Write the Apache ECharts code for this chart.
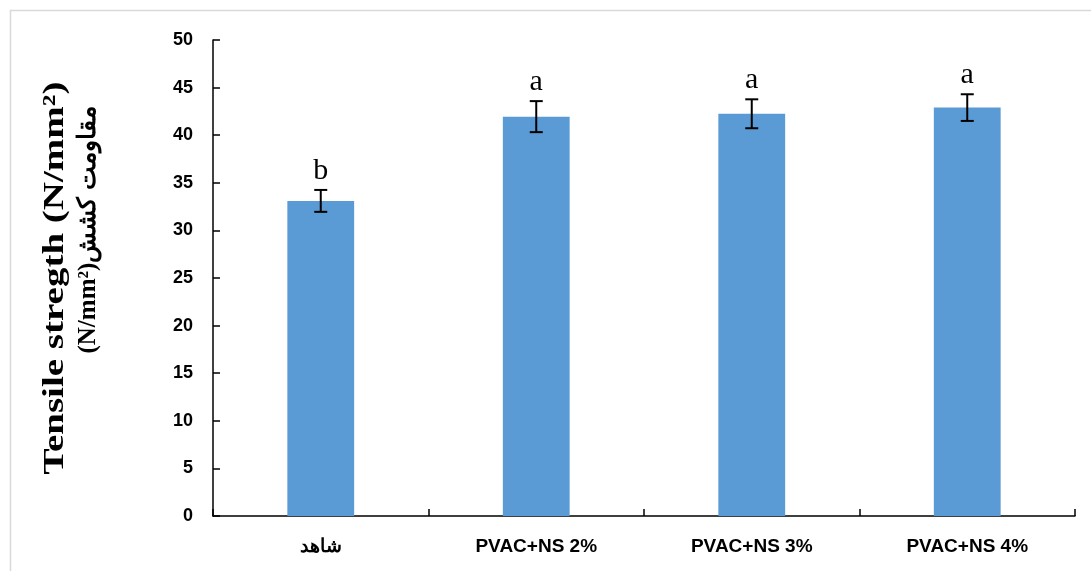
<!DOCTYPE html>
<html>
<head>
<meta charset="utf-8">
<script src="https://cdn.jsdelivr.net/npm/echarts@6/dist/echarts.min.js"></script>
<style>
html,body{margin:0;padding:0;background:#fff;}
#chart{width:1091px;height:571px;}
</style>
</head>
<body>
<div id="chart"></div>
<script>
const categories = ['شاهد', 'PVAC+NS 2%', 'PVAC+NS 3%', 'PVAC+NS 4%'];
const values = [33.1, 41.95, 42.25, 42.9];
const errors = [1.15, 1.63, 1.52, 1.4];
const letters = ['b', 'a', 'a', 'a'];
const yTitle1 = 'Tensile stregth (N/mm²)';
const yTitle2 = '(N/mm²)مقاومت کشش';

const chart = echarts.init(document.getElementById('chart'));
const option = {
  animation: false,
  backgroundColor: '#ffffff',
  grid: { left: 213, right: 16, top: 40, bottom: 55, containLabel: false },
  xAxis: {
    type: 'category',
    data: categories,
    axisLine: { lineStyle: { color: '#000', width: 1.5 } },
    axisTick: { show: true, inside: true, length: 7, lineStyle: { color: '#000', width: 1.5 } },
    axisLabel: { color: '#000', fontFamily: 'Liberation Sans', fontWeight: 'bold', fontSize: 19, margin: 21 },
    splitLine: { show: false }
  },
  yAxis: {
    type: 'value',
    min: 0, max: 50, interval: 5,
    axisLine: { show: true, lineStyle: { color: '#000', width: 1.5 } },
    axisTick: { show: true, inside: true, length: 7, lineStyle: { color: '#000', width: 1.5 } },
    axisLabel: { color: '#000', fontFamily: 'Liberation Sans', fontWeight: 'bold', fontSize: 18, margin: 20 },
    splitLine: { show: false }
  },
  graphic: [
    { type: 'rect', z: -10, silent: true, shape: { x: 10.5, y: 10.5, width: 1200, height: 700 },
      style: { fill: 'none', stroke: '#d9d9d9', lineWidth: 1.5 } },
    { type: 'text', x: 55, y: 278, rotation: Math.PI / 2, scaleX: 1.3,
      style: { text: yTitle1, font: 'bold 30px "Liberation Serif"', fill: '#000', textAlign: 'center', textVerticalAlign: 'middle' } },
    { type: 'text', x: 89, y: 230, rotation: Math.PI / 2, scaleX: 1.0,
      style: { text: yTitle2, font: 'bold 25px "Liberation Serif"', fill: '#000', textAlign: 'center', textVerticalAlign: 'middle' } }
  ],
  series: [
    {
      type: 'bar',
      data: values,
      barWidth: '31%',
      itemStyle: { color: '#5b9bd5' },
      z: 2
    },
    {
      type: 'custom',
      z: 5,
      data: values.map((v, i) => [i, v, errors[i]]),
      renderItem: function (params, api) {
        const i = api.value(0), v = api.value(1), e = api.value(2);
        const top = api.coord([i, v + e]);
        const bot = api.coord([i, v - e]);
        const hw = 6.5;
        const ls = { stroke: '#000', lineWidth: 2 };
        return {
          type: 'group',
          children: [
            { type: 'line', shape: { x1: top[0], y1: top[1], x2: bot[0], y2: bot[1] }, style: ls },
            { type: 'line', shape: { x1: top[0] - hw, y1: top[1], x2: top[0] + hw, y2: top[1] }, style: ls },
            { type: 'line', shape: { x1: bot[0] - hw, y1: bot[1], x2: bot[0] + hw, y2: bot[1] }, style: ls },
            { type: 'text', x: top[0], y: top[1] - 4,
              style: { text: letters[params.dataIndex], font: '30px "Liberation Serif"', fill: '#000', textAlign: 'center', textVerticalAlign: 'bottom' } }
          ]
        };
      }
    }
  ]
};
chart.setOption(option);
</script>
</body>
</html>
